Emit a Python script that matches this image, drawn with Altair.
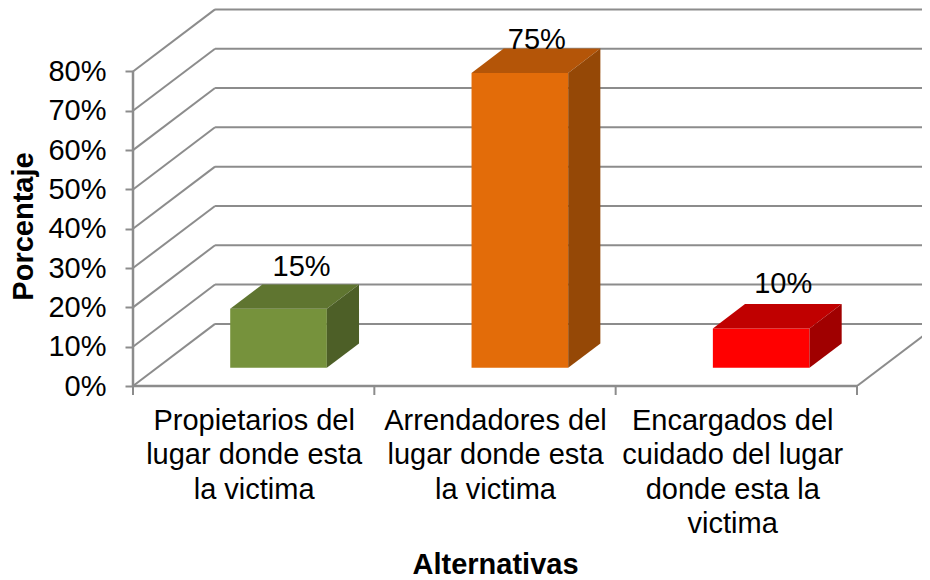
import altair as alt
import pandas as pd

categories = ["Propietarios del\nlugar donde esta\nla victima",
              "Arrendadores del\nlugar donde esta\nla victima",
              "Encargados del\ncuidado del lugar\ndonde esta la\nvictima"]
values = [15, 75, 10]
value_labels = ["15%", "75%", "10%"]
y_ticks = [0, 10, 20, 30, 40, 50, 60, 70, 80]
front_colors = ["#76923C", "#E36C09", "#FF0000"]
top_colors = ["#5F7530", "#B45508", "#C00000"]
side_colors = ["#4D5F27", "#954806", "#A00000"]
label_nudges = [(23, -42), (17, -33), (22, -44)]

FONT = "Liberation Sans"
FS = 29
GRID = "#8C8C8C"
W, H = 789, 378
X_MAX = 789 / 241.33
Y_MAX = 96.15
DX, DZ = 0.34, 15.8          # full wall depth in x units / percent units
BAR_W = 0.4005
BAR_D0, BAR_D = 0.2935, 0.392  # where the bars sit in depth

xs = alt.Scale(domain=[0, X_MAX], nice=False, zero=False)
ys = alt.Scale(domain=[0, Y_MAX], nice=False, zero=False)
X = lambda f, **k: alt.X(f, type="quantitative", scale=xs, **k)
Y = lambda f, **k: alt.Y(f, type="quantitative", scale=ys, **k)

x_labels_js = "[" + ",".join(repr(c) for c in categories) + "]"
layers = []

# back wall + side wall + floor
back = pd.DataFrame({"x": [DX] * len(y_ticks), "x2": [X_MAX] * len(y_ticks),
                     "y": [v + DZ for v in y_ticks]})
layers.append(alt.Chart(back).mark_rule(color=GRID, strokeWidth=2).encode(
    x=X("x", axis=alt.Axis(
        values=[0.5, 1.5, 2.483], title="Alternativas", grid=False, domain=False, ticks=False,
        labelExpr=f"split({x_labels_js}[floor(datum.value)], '\\n')",
        labelFont=FONT, labelFontSize=FS, labelColor="#000", labelLineHeight=34.5,
        labelPadding=20, labelAngle=0, labelBaseline="top", labelOverlap=False, labelBound=False,
        labelFlush=False, labelLimit=400,
        titleFont=FONT, titleFontSize=FS, titleFontWeight="bold", titleColor="#000",
        titleX=362, titleY=178, titleBaseline="middle", titleAlign="center")),
    x2="x2",
    y=Y("y", axis=alt.Axis(
        values=y_ticks, title="Porcentaje", grid=False, domain=False, format=".0f",
        labelExpr="datum.value + '%'", tickColor=GRID, tickWidth=2, tickSize=8,
        labelFont=FONT, labelFontSize=FS, labelColor="#000", labelPadding=19,
        titleFont=FONT, titleFontSize=FS, titleFontWeight="bold", titleColor="#000",
        titleX=-110, titleY=218, titleAngle=-90, titleBaseline="middle", titleAlign="center")),
))

diag = pd.DataFrame({
    "level": y_ticks * 2,
    "x": [0] * len(y_ticks) + [DX] * len(y_ticks),
    "y": y_ticks + [v + DZ for v in y_ticks],
})
layers.append(alt.Chart(diag).mark_line(color=GRID, strokeWidth=2).encode(
    x=X("x"), y=Y("y"), detail="level:N"))

right_diag = pd.DataFrame({"x": [3, 3 + DX], "y": [0, DZ]})
layers.append(alt.Chart(right_diag).mark_line(color=GRID, strokeWidth=2, clip=True).encode(
    x=X("x"), y=Y("y")))

wall = pd.DataFrame({"x": [0], "y": [0], "y2": [80]})
layers.append(alt.Chart(wall).mark_rule(color=GRID, strokeWidth=2.5).encode(
    x=X("x"), y=Y("y"), y2="y2"))
floor = pd.DataFrame({"x": [0], "x2": [3], "y": [0]})
layers.append(alt.Chart(floor).mark_rule(color=GRID, strokeWidth=2.5).encode(
    x=X("x"), x2="x2", y=Y("y")))
x_ticks = pd.DataFrame({"x": [0, 1, 2, 3]})
layers.append(alt.Chart(x_ticks).mark_rule(color=GRID, strokeWidth=2).encode(
    x=X("x"), y=alt.value(H), y2=alt.value(H + 9)))

# 3-D bars
for i, v in enumerate(values):
    left = i + 0.303 + BAR_D0 * DX
    right = left + BAR_W
    base = BAR_D0 * DZ
    top = base + v
    sx, sz = BAR_D * DX, BAR_D * DZ

    front = pd.DataFrame({"x": [left], "x2": [right], "y": [base], "y2": [top]})
    layers.append(alt.Chart(front).mark_rect(color=front_colors[i]).encode(
        x=X("x"), x2="x2", y=Y("y"), y2="y2"))

    roof = pd.DataFrame({"x": [left, left + sx], "x2": [right, right + sx], "y": [top, top + sz]})
    layers.append(alt.Chart(roof).mark_area(orient="horizontal", color=top_colors[i]).encode(
        x=X("x"), x2="x2", y=Y("y")))

    side = pd.DataFrame({"x": [right, right + sx], "y": [base, base + sz], "y2": [top, top + sz]})
    layers.append(alt.Chart(side).mark_area(orient="vertical", color=side_colors[i]).encode(
        x=X("x"), y=Y("y"), y2="y2"))

# value labels
for i, v in enumerate(values):
    cx = i + 0.303 + BAR_D0 * DX + BAR_W / 2
    lab = pd.DataFrame({"x": [cx], "y": [BAR_D0 * DZ + v], "t": [value_labels[i]]})
    layers.append(alt.Chart(lab).mark_text(
        font=FONT, fontSize=FS, color="#000", baseline="middle", align="center",
        dx=label_nudges[i][0], dy=label_nudges[i][1]).encode(
        x=X("x"), y=Y("y"), text="t:N"))

chart = alt.layer(*layers).properties(
    width=W, height=H,
    padding={"left": 125, "top": 0, "right": 0, "bottom": 194},
    autosize=alt.AutoSizeParams(type="none"),
    background="white",
).configure_view(stroke=None)

chart.save("out.html", embed_options={"renderer": "svg", "actions": False})
